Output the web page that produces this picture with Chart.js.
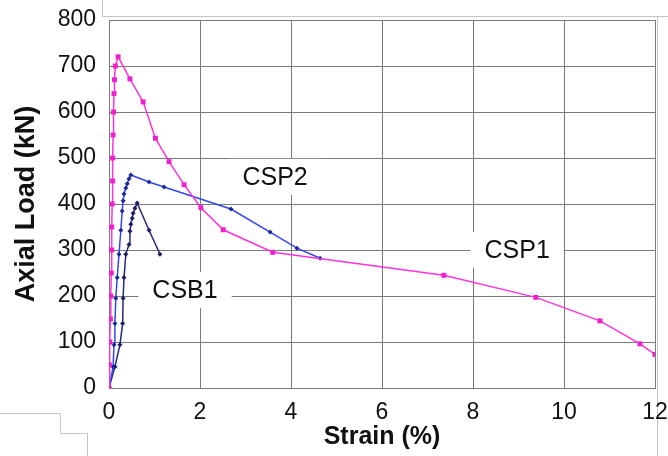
<!DOCTYPE html>
<html>
<head>
<meta charset="utf-8">
<script src="https://cdn.jsdelivr.net/npm/chart.js@4.4.1/dist/chart.umd.min.js"></script>
<style>
  html, body { margin: 0; padding: 0; background: #fff; }
  #wrap { width: 668px; height: 456px; }
</style>
</head>
<body>
<div id="wrap"><canvas id="chart" width="668" height="456"></canvas></div>
<script>
// Strain (%) / axial load (kN) readings for each specimen
const csp1Strain = [0, 0.01, 0.02, 0.03, 0.04, 0.05, 0.06, 0.06, 0.07, 0.08, 0.08, 0.09, 0.1, 0.11, 0.12, 0.14, 0.2, 0.46, 0.75, 1.02, 1.32, 1.65, 2.02, 2.51, 3.6, 7.36, 9.38, 10.79, 11.67, 12];
const csp1Load   = [0, 50, 100, 150, 200, 250, 300, 350, 400, 450, 500, 550, 600, 640, 670, 700, 720, 672, 622, 543, 492, 442, 392, 344, 295, 245, 197, 146, 96, 73];

const csp2Strain = [0, 0.09, 0.11, 0.13, 0.15, 0.18, 0.22, 0.26, 0.29, 0.31, 0.33, 0.37, 0.4, 0.44, 0.48, 0.88, 1.21, 2.68, 3.54, 4.13, 4.64];
const csp2Load   = [0, 46, 94, 140, 195, 240, 291, 343, 385, 407, 422, 435, 444, 455, 463, 448, 437, 389, 339, 304, 282];

const csb1Strain = [0, 0.13, 0.24, 0.3, 0.31, 0.33, 0.37, 0.44, 0.46, 0.48, 0.51, 0.53, 0.57, 0.62, 0.88, 1.12];
const csb1Load   = [0, 46, 94, 140, 195, 240, 291, 312, 341, 356, 369, 380, 391, 402, 343, 291];

// curve labels: name, strain, load
const curveLabels = ['CSP2', 'CSP1', 'CSB1'];
const labelStrain = [3.65, 8.97, 1.67];
const labelLoad   = [459, 300, 213];

function toPoints(xs, ys) {
    return xs.map((x, i) => ({ x: x, y: ys[i] }));
}

const FONT = '"Liberation Sans", Arial, sans-serif';

// faint frame lines left over from the scan
const framePlugin = {
    id: 'frame',
    beforeDraw(chart) {
        const ctx = chart.ctx;
        ctx.save();
        ctx.strokeStyle = '#c4c4c4';
        ctx.lineWidth = 1;
        ctx.beginPath();
        ctx.moveTo(102.5, 0); ctx.lineTo(102.5, 16.5); ctx.lineTo(668, 16.5);
        ctx.moveTo(657.5, 16.5); ctx.lineTo(657.5, 456);
        ctx.moveTo(0, 413.5); ctx.lineTo(60.5, 413.5); ctx.lineTo(60.5, 433.5); ctx.lineTo(87.5, 433.5); ctx.lineTo(87.5, 456);
        ctx.stroke();
        ctx.restore();
    }
};

// text labels with white boxes behind them
const labelPlugin = {
    id: 'curveLabels',
    afterDatasetsDraw(chart) {
        const ctx = chart.ctx;
        const xs = chart.scales.x, ys = chart.scales.y;
        ctx.save();
        ctx.font = '25px ' + FONT;
        ctx.textAlign = 'center';
        ctx.textBaseline = 'middle';
        curveLabels.forEach((txt, i) => {
            const px = xs.getPixelForValue(labelStrain[i]);
            const py = ys.getPixelForValue(labelLoad[i]);
            const w = ctx.measureText(txt).width;
            ctx.fillStyle = '#fff';
            ctx.fillRect(px - w / 2 - 14, py - 18, w + 28, 36);
            ctx.fillStyle = '#111';
            ctx.fillText(txt, px, py + 1);
        });
        ctx.restore();
    }
};

new Chart(document.getElementById('chart').getContext('2d'), {
    type: 'scatter',
    data: {
        datasets: [
            {
                label: 'CSP1',
                data: toPoints(csp1Strain, csp1Load),
                showLine: true,
                borderColor: '#ff33dd',
                backgroundColor: '#ee22cc',
                borderWidth: 1.5,
                pointStyle: 'rect',
                pointRadius: 3.5,
                pointBorderWidth: 0
            },
            {
                label: 'CSP2',
                data: toPoints(csp2Strain, csp2Load),
                showLine: true,
                borderColor: '#3346ee',
                backgroundColor: '#1c2a99',
                borderWidth: 1.5,
                pointStyle: 'rectRot',
                pointRadius: 2.5,
                pointBorderWidth: 0
            },
            {
                label: 'CSB1',
                data: toPoints(csb1Strain, csb1Load),
                showLine: true,
                borderColor: '#262a7a',
                backgroundColor: '#1a1d66',
                borderWidth: 1.5,
                pointStyle: 'rectRot',
                pointRadius: 2.5,
                pointBorderWidth: 0
            }
        ]
    },
    options: {
        responsive: false,
        animation: false,
        layout: { padding: { top: 20, right: 13, left: 0, bottom: 0 } },
        plugins: {
            legend: { display: false },
            tooltip: { enabled: false }
        },
        scales: {
            x: {
                type: 'linear',
                min: 0,
                max: 12,
                afterFit(scale) {
                    scale.height = 68;
                    scale.paddingLeft = 0;
                    scale.paddingRight = 0;
                },
                ticks: {
                    stepSize: 2,
                    padding: 11,
                    color: '#111',
                    font: { family: FONT, size: 23 }
                },
                grid: { color: '#7a7a7a', lineWidth: 1, drawTicks: false },
                border: { color: '#7a7a7a' },
                title: {
                    display: true,
                    text: 'Strain (%)',
                    color: '#111',
                    font: { family: FONT, size: 25, weight: 'bold' },
                    padding: { top: 0, bottom: 4 }
                }
            },
            y: {
                type: 'linear',
                min: 0,
                max: 800,
                afterFit(scale) {
                    scale.width = 109;
                    scale.paddingTop = 0;
                    scale.paddingBottom = 0;
                },
                ticks: {
                    stepSize: 100,
                    padding: 13,
                    color: '#111',
                    font: { family: FONT, size: 23 }
                },
                grid: { color: '#7a7a7a', lineWidth: 1, drawTicks: false },
                border: { color: '#7a7a7a' },
                title: {
                    display: true,
                    text: 'Axial Load (kN)',
                    color: '#111',
                    font: { family: FONT, size: 27, weight: 'bold' },
                    padding: { top: 10, bottom: 0 }
                }
            }
        }
    },
    plugins: [framePlugin, labelPlugin]
});
</script>
</body>
</html>
